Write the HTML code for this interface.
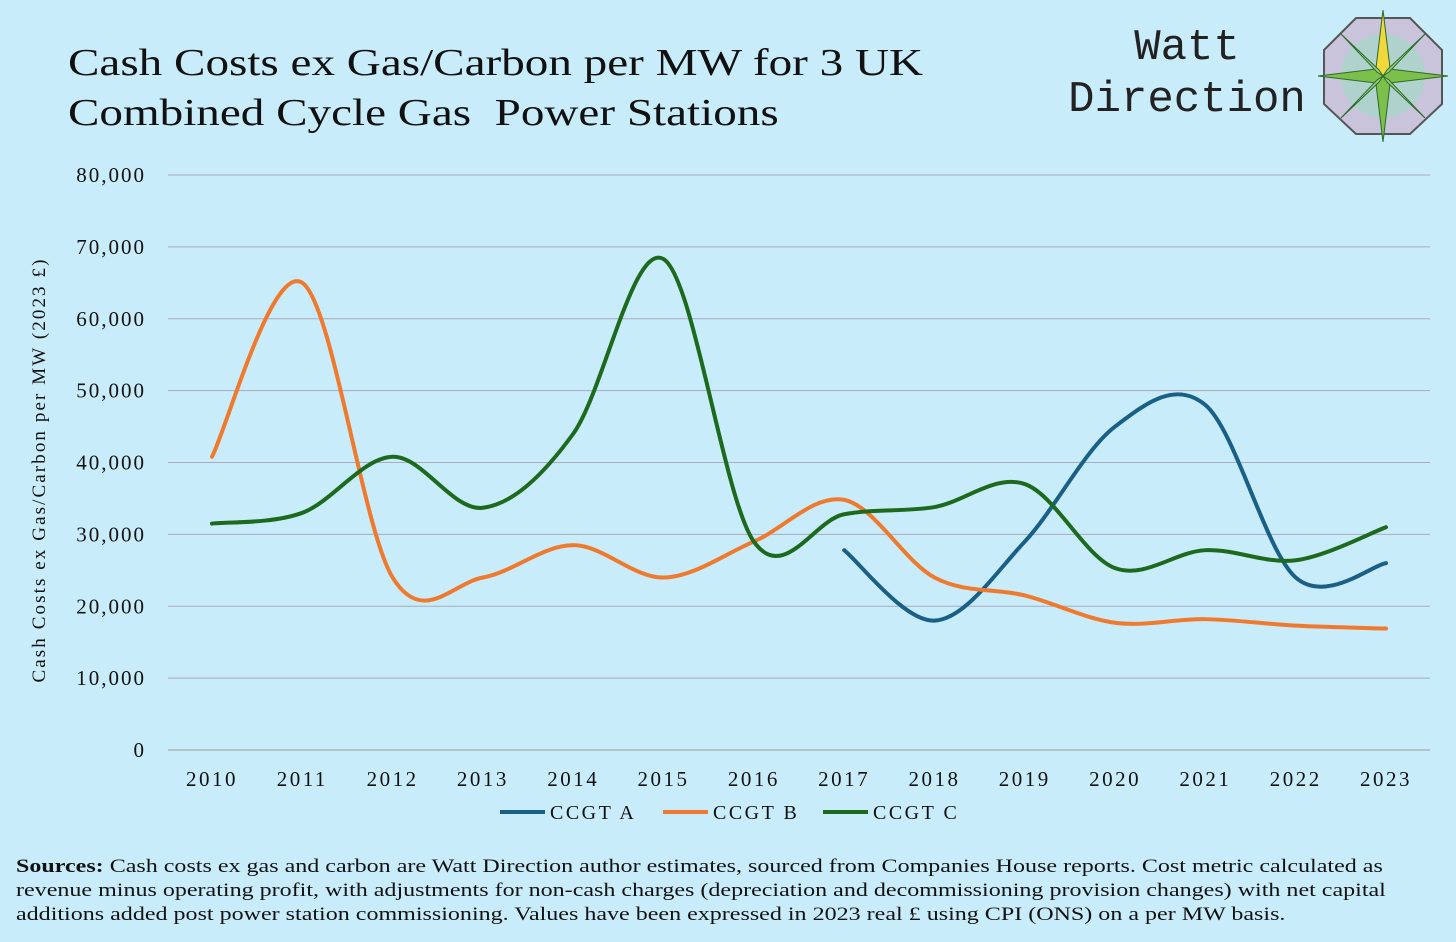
<!DOCTYPE html>
<html><head><meta charset="utf-8"><style>
body{margin:0;width:1456px;height:942px;background:#c8ecfa;font-family:"Liberation Serif",serif;overflow:hidden;position:relative}
.t{position:absolute}
</style></head><body>
<div class="t" style="left:68px;top:38px;font-size:38px;line-height:50px;color:#111;transform-origin:0 0;transform:scaleX(1.24);white-space:nowrap">Cash Costs ex Gas/Carbon per MW for 3 UK<br>Combined Cycle Gas&nbsp; Power Stations</div>
<div class="t" style="left:1056px;top:22px;font-family:'Liberation Mono',monospace;font-size:44px;line-height:52px;color:#222;text-align:center;width:262px">Watt<br>Direction</div>
<svg class="t" style="left:1316px;top:8px" width="134" height="134" viewBox="0 0 134 134">
<polygon points="40,10 94,10 126,42 126,96 94,126 40,126 8,96 8,42" fill="#c9c4dc" stroke="#555" stroke-width="2"/>
<circle cx="67" cy="68" r="42" fill="#a9d6c8" opacity="0.8"/>
<polygon points="67,2 74,60 67,68 60,60" fill="#f1d83a" stroke="#2a6a2a"/>
<polygon points="67,134 74,76 67,68 60,76" fill="#7cbf4a" stroke="#2a6a2a"/>
<polygon points="2,68 60,61 67,68 60,75" fill="#7cbf4a" stroke="#2a6a2a"/>
<polygon points="132,68 74,61 67,68 74,75" fill="#7cbf4a" stroke="#2a6a2a"/>
<polygon points="25,26 63,62 67,68 61,64" fill="#9bd08a" stroke="#2a6a2a"/>
<polygon points="109,26 71,62 67,68 73,64" fill="#9bd08a" stroke="#2a6a2a"/>
<polygon points="25,110 63,74 67,68 61,72" fill="#9bd08a" stroke="#2a6a2a"/>
<polygon points="109,110 71,74 67,68 73,72" fill="#9bd08a" stroke="#2a6a2a"/>
</svg>
<svg class="t" id="chart" style="left:0;top:0" width="1456" height="942"></svg>
<div class="t" style="left:16px;top:855px;white-space:nowrap;font-size:19px;line-height:24px;color:#111;transform-origin:0 0;transform:scaleX(1.265)"><b>Sources:</b> Cash costs ex gas and carbon are Watt Direction author estimates, sourced from Companies House reports. Cost metric calculated as<br>revenue minus operating profit, with adjustments for non-cash charges (depreciation and decommissioning provision changes) with net capital<br>additions added post power station commissioning. Values have been expressed in 2023 real £ using CPI (ONS) on a per MW basis.</div>
<script>
const years=[2010,2011,2012,2013,2014,2015,2016,2017,2018,2019,2020,2021,2022,2023];
const yTicks=[0,10000,20000,30000,40000,50000,60000,70000,80000];
const seriesNames=["CCGT A","CCGT B","CCGT C"];
const seriesColors=["#1a5f86","#ef7a2e","#1d6a1e"];
const ccgtA=[null,null,null,null,null,null,null,27800,18000,29000,45000,48000,24000,26000];
const ccgtB=[40800,65000,24000,24000,28500,24000,29000,34800,24000,21500,17700,18200,17300,16900];
const ccgtC=[31500,33000,40800,33700,44000,68300,29000,32800,33800,37000,25300,27800,26400,31000];
const NS="http://www.w3.org/2000/svg";
const svg=document.getElementById('chart');
const x=i=>212+i*(1386-212)/13;
const y=v=>750-v*(575/80000);
function mk(t,a){const e=document.createElementNS(NS,t);for(const k in a)e.setAttribute(k,a[k]);svg.appendChild(e);return e;}
yTicks.forEach(v=>{
 const l=mk('line',{x1:168,x2:1430,y1:y(v),y2:y(v),stroke:v===0?'#999':'#aab',"stroke-width":1});
 
 
 const t=mk('text',{x:146,y:y(v)+7,"text-anchor":"end","font-size":21,"letter-spacing":2,fill:"#111","font-family":"Liberation Serif"});
 t.textContent=v.toLocaleString('en-US');
 
 
});
years.forEach((yr,i)=>{
 const t=mk('text',{x:x(i),y:786,"text-anchor":"middle","font-size":21,"letter-spacing":2.5,fill:"#111","font-family":"Liberation Serif"});
 t.textContent=yr;
 
 
});
const yt=mk('text',{x:0,y:0,transform:"translate(45,470) rotate(-90)","text-anchor":"middle","font-size":19,"letter-spacing":2.1,fill:"#111","font-family":"Liberation Serif"});
yt.textContent="Cash Costs ex Gas/Carbon per MW (2023 £)";


function path(vals){
 const p=[];vals.forEach((v,i)=>{if(v!==null)p.push([x(i),y(v)]);});
 let d=`M${p[0][0]},${p[0][1]}`;
 for(let i=0;i<p.length-1;i++){
  const p0=p[i-1]||p[i],p1=p[i],p2=p[i+1],p3=p[i+2]||p2;
  const c1=[p1[0]+(p2[0]-p0[0])/6,p1[1]+(p2[1]-p0[1])/6];
  const c2=[p2[0]-(p3[0]-p1[0])/6,p2[1]-(p3[1]-p1[1])/6];
  d+=` C${c1[0]},${c1[1]} ${c2[0]},${c2[1]} ${p2[0]},${p2[1]}`;
 }
 return d;
}
[ccgtA,ccgtB,ccgtC].forEach((s,k)=>{
 const e=mk('path',{d:path(s),fill:"none",stroke:seriesColors[k],"stroke-width":4,"stroke-linecap":"round"});
 
 
});
const lx=[500,663,823];
seriesNames.forEach((n,k)=>{
 const l=mk('line',{x1:lx[k],x2:lx[k]+45,y1:812,y2:812,stroke:seriesColors[k],"stroke-width":4});
 
 
 const t=mk('text',{x:lx[k]+50,y:819,"font-size":20,"letter-spacing":2.5,fill:"#111","font-family":"Liberation Serif"});
 t.textContent=n;
 
 
});
</script>
</body></html>
